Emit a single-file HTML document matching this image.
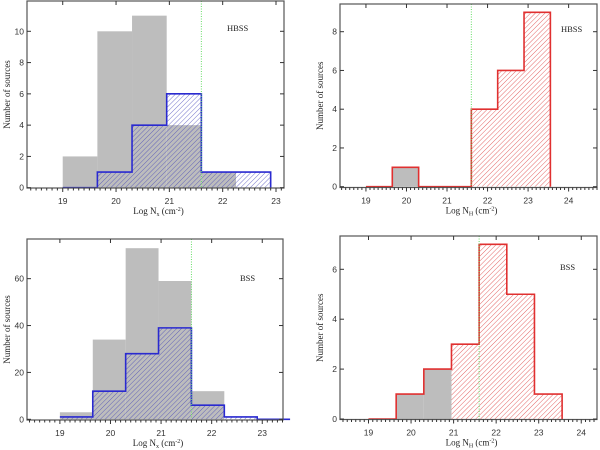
<!DOCTYPE html>
<html><head><meta charset="utf-8">
<style>
body{margin:0;background:#fff;}
svg{display:block;}
text{font-family:"Liberation Serif",serif;fill:#222;}
.tk{font-family:"Liberation Sans",sans-serif;font-size:8.5px;fill:#333;}
</style></head>
<body>
<svg id="fig" width="600" height="450" viewBox="0 0 600 450" xmlns="http://www.w3.org/2000/svg">
<defs>
<pattern id="hb" patternUnits="userSpaceOnUse" width="3.4" height="3.4" patternTransform="rotate(45)">
<line x1="0" y1="0" x2="0" y2="3.4" stroke="#4040b8" stroke-width="0.9" opacity="0.8"/>
</pattern>
<pattern id="hr" patternUnits="userSpaceOnUse" width="3.4" height="3.4" patternTransform="rotate(45)">
<line x1="0" y1="0" x2="0" y2="3.4" stroke="#dd3a3a" stroke-width="0.9" opacity="0.85"/>
</pattern>
</defs>
</svg>
<script>
// bins start at 19.0, width 0.65
const binStart = 19.0;
const binWidth = 0.65;
// top-left (HBSS, N_x)
const tlGray = [2, 10, 11, 4, 1, 0, 0];
const tlBlue = [0, 1, 4, 6, 1, 1];
const tlYTicks = [0, 2, 4, 6, 8, 10];
const tlXTicks = [19, 20, 21, 22, 23];
// top-right (HBSS, N_H)
const trGray = [0, 1, 0, 0, 0, 0, 0];
const trRed = [0, 1, 0, 0, 4, 6, 9];
const trYTicks = [0, 2, 4, 6, 8];
const trXTicks = [19, 20, 21, 22, 23, 24];
// bottom-left (BSS, N_x)
const blGray = [3, 34, 73, 59, 12, 0, 0];
const blBlue = [1, 12, 28, 39, 6, 1, 0];
const blYTicks = [0, 20, 40, 60];
const blXTicks = [19, 20, 21, 22, 23];
// bottom-right (BSS, N_H)
const brGray = [0, 1, 2, 0, 0, 0, 0];
const brRed = [0, 1, 2, 3, 7, 5, 1];
const brYTicks = [0, 2, 4, 6];
const brXTicks = [19, 20, 21, 22, 23, 24];
const cutLine = 21.6;

const NS = "http://www.w3.org/2000/svg";
const svg = document.getElementById('fig');
function mk(tag, attrs, parent){
  const e = document.createElementNS(NS, tag);
  for (const k in attrs) e.setAttribute(k, attrs[k]);
  (parent || svg).appendChild(e);
  return e;
}

function panel(p){
  const g = mk('g', {});
  
  
  const X = v => p.l + (v - p.x0) / (p.x1 - p.x0) * (p.r - p.l);
  const Y = v => p.y0px - v * p.ppu;
  p.gray.forEach((v, i) => {
    if (v <= 0) return;
    const a = binStart + i * binWidth, b = a + binWidth;
    const r = mk('rect', {x: X(a), y: Y(v), width: X(b) - X(a), height: Y(0) - Y(v), fill: '#bdbdbd'}, g);
    
    
  });
  let d = '';
  p.hist.forEach((v, i) => {
    const a = binStart + i * binWidth, b = a + binWidth;
    if (v > 0 && i >= p.hatchFrom) {
      const r = mk('rect', {x: X(a), y: Y(v), width: X(b) - X(a), height: Y(0) - Y(v), fill: p.pat}, g);
      
      
    }
    d += (i === 0 ? 'M' + X(a) + ' ' + Y(v) : 'L' + X(a) + ' ' + Y(v)) + ' L' + X(b) + ' ' + Y(v) + ' ';
  });
  const nEnd = binStart + p.hist.length * binWidth;
  d += 'L' + X(nEnd) + ' ' + Y(0);
  const ol = mk('path', {d: d, fill: 'none', stroke: p.col, 'stroke-width': 1.6}, g);
  
  
  const cl = mk('line', {x1: X(cutLine), x2: X(cutLine), y1: p.t, y2: Y(0), stroke: '#66dd66', 'stroke-width': 1, 'stroke-dasharray': '1,1.5'}, g);
  
  
  const fr = mk('rect', {x: p.l, y: p.t, width: p.r - p.l, height: p.b - p.t, fill: 'none', stroke: '#555', 'stroke-width': 1.2}, g);
  
  
  for (let k = Math.ceil(p.x0 * 10); k <= Math.floor(p.x1 * 10); k++) {
    const v = k / 10, x = X(v), major = k % 10 === 0;
    mk('line', {x1: x, x2: x, y1: p.b, y2: p.b + (major ? 4 : 2.5), stroke: '#333', 'stroke-width': 1}, g);
    if (major) mk('line', {x1: x, x2: x, y1: p.t, y2: p.t + 4, stroke: '#333', 'stroke-width': 1}, g);
  }
  p.xt.forEach(v => {
    const t = mk('text', {x: X(v), y: p.b + 16, 'text-anchor': 'middle', class: 'tk'}, g);
    t.textContent = v;
    
    
  });
  p.yt.forEach(v => {
    const y = Y(v);
    mk('line', {x1: p.l, x2: p.l + 4, y1: y, y2: y, stroke: '#333'}, g);
    mk('line', {x1: p.r - 4, x2: p.r, y1: y, y2: y, stroke: '#333'}, g);
    const t = mk('text', {x: p.l - 3, y: y + 3, 'text-anchor': 'end', class: 'tk', 'font-size': 8}, g);
    t.textContent = v;
    
    
  });
  const yt = mk('text', {x: 0, y: 0, 'font-size': 9, 'text-anchor': 'middle', transform: 'translate(' + (p.l - 17) + ',' + ((p.t + p.b) / 2) + ') rotate(-90)'}, g);
  yt.textContent = 'Number of sources';
  
  
  const xt = mk('text', {x: (p.l + p.r) / 2 + 3, y: p.b + 26, 'font-size': 9, 'text-anchor': 'middle'}, g);
  xt.innerHTML = 'Log N<tspan font-size="6" dy="2">' + p.sub + '</tspan><tspan dy="-2"> (cm</tspan><tspan font-size="6" dy="-3">-2</tspan><tspan dy="3">)</tspan>';
  
  
  const lb = mk('text', {x: p.lx, y: p.ly, 'font-size': 8.5}, g);
  lb.textContent = p.label;
  
  
}

panel({name:'panel-hbss-nx', l:27, r:284, t:1, b:188, y0px:187.7, ppu:15.64, x0:18.33, x1:23.15,
  gray:tlGray, hist:tlBlue, hatchFrom:0, pat:'url(#hb)', col:'#2a2ad0', xt:tlXTicks, yt:tlYTicks, sub:'x', label:'HBSS', lx:227, ly:31});
panel({name:'panel-hbss-nh', l:340, r:597, t:4, b:187.5, y0px:186.7, ppu:19.375, x0:18.36, x1:24.70,
  gray:trGray, hist:trRed, hatchFrom:3, pat:'url(#hr)', col:'#e03030', xt:trXTicks, yt:trYTicks, sub:'H', label:'HBSS', lx:561, ly:32});
panel({name:'panel-bss-nx', l:27, r:283, t:239, b:420, y0px:419.3, ppu:2.344, x0:18.35, x1:23.41,
  gray:blGray, hist:blBlue, hatchFrom:0, pat:'url(#hb)', col:'#2a2ad0', xt:blXTicks, yt:blYTicks, sub:'x', label:'BSS', lx:240, ly:281});
panel({name:'panel-bss-nh', l:340, r:597, t:236, b:419.5, y0px:419, ppu:24.95, x0:18.33, x1:24.37,
  gray:brGray, hist:brRed, hatchFrom:3, pat:'url(#hr)', col:'#e03030', xt:brXTicks, yt:brYTicks, sub:'H', label:'BSS', lx:560, ly:270});
</script>
</body></html>
